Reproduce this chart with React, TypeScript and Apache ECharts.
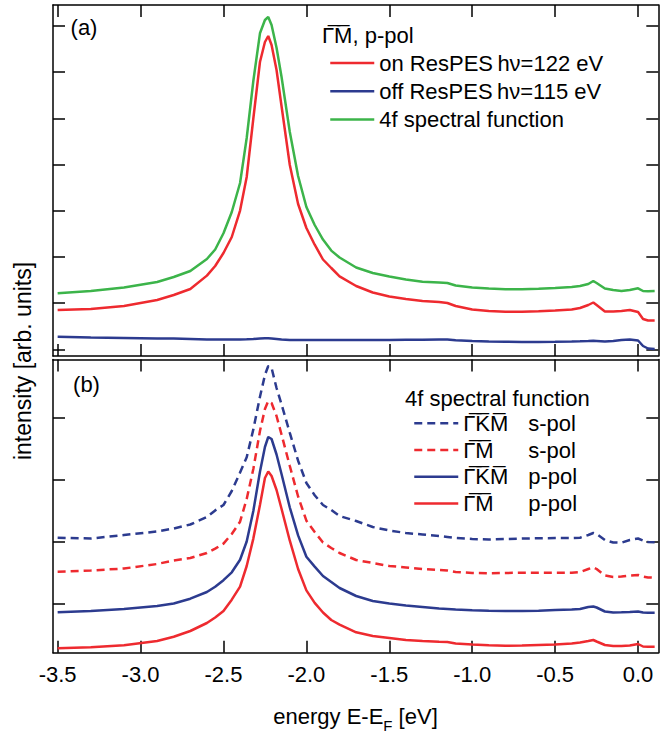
import React, { useEffect, useRef } from 'react';
import * as echarts from 'echarts';

// energy grid (eV)
const energy = [
  -3.5, -3.3, -3.1, -2.9, -2.8, -2.7, -2.6, -2.55, -2.5, -2.45,
  -2.4, -2.36, -2.32, -2.28, -2.25, -2.23, -2.21, -2.18, -2.15, -2.1,
  -2.05, -2.0, -1.95, -1.9, -1.85, -1.8, -1.7, -1.6, -1.5, -1.4,
  -1.3, -1.2, -1.15, -1.1, -1.0, -0.9, -0.8, -0.7, -0.6, -0.5,
  -0.4, -0.35, -0.3, -0.27, -0.25, -0.2, -0.15, -0.1, -0.05, 0.0,
  0.03, 0.06, 0.1,
];

// panel (a): GM, p-pol
const onResPES = [
  46, 47, 50, 56, 61, 67, 80.4, 90, 103, 119,
  145.4, 179, 237.5, 294, 314, 320, 311, 286, 250, 191,
  152, 128, 111.3, 96.5, 88, 79.7, 70, 63.5, 59.5, 57,
  55, 54, 53, 50, 46.5, 45, 44.3, 44.3, 44.7, 45.5,
  46.5, 48, 51, 53.5, 51, 44.5, 44.5, 45, 46, 44,
  37, 35.5, 35.5,
];
const offResPES = [
  19.3, 18.5, 18, 17.5, 17.5, 17, 16.5, 16.5, 16.5, 16.5,
  16.5, 16.7, 17, 17.5, 17.7, 17.7, 17.5, 17, 16.5, 16,
  16, 16, 16, 16, 16, 16, 16, 16, 16, 16.2,
  16.3, 16.5, 16.5, 15.7, 15, 14.5, 14.3, 14, 14, 14.2,
  14.5, 14.7, 15, 15.2, 15, 14.5, 15, 16, 16.5, 15.5,
  10, 7.5, 7,
];
const spectral4fA = [
  62.7, 65, 68.5, 74, 79, 85, 97, 106.5, 122.7, 144,
  173, 218, 275, 322.7, 336, 339, 331, 308.2, 279.3, 224,
  180, 149, 131, 116.4, 105.4, 98.5, 88.5, 83, 79.5, 76.5,
  74.3, 73.5, 73, 70.5, 68.5, 67.5, 66.7, 66.7, 67.2, 68,
  69, 70, 72, 75, 73, 67.5, 66, 65, 66, 67.7,
  65, 64.7, 65,
];

// panel (b): 4f spectral function
const gkmSpol = [
  115, 114.2, 117.7, 121.2, 124.2, 128.2, 135.7, 142.3, 147.7, 161.7,
  180.1, 195.4, 223.3, 255.9, 277.7, 286.7, 284.7, 264.7, 248.4, 219.9,
  192, 169.7, 157.5, 147.7, 142.7, 136.7, 131.7, 125.7, 122.2, 119.7,
  118.2, 116.7, 115.7, 114.7, 113.7, 113.2, 113.7, 114.2, 114.4, 114.7,
  114.7, 115, 117.7, 119.7, 118.7, 112.7, 110.2, 110, 112.7, 114.2,
  112.2, 110.7, 110.4,
];
const gmSpol = [
  81, 82.2, 84.2, 88.7, 92.2, 94.7, 99.7, 104.1, 109.1, 118.7,
  131, 153.7, 183.7, 221.7, 243.7, 251.7, 249.7, 236.7, 218.2, 186.7,
  156.2, 132, 120.7, 110.2, 104.7, 99.7, 92.7, 89.7, 86.7, 85.2,
  83.7, 82.7, 82.2, 80.7, 79.7, 79.4, 79.7, 80, 80, 80,
  80, 80.7, 83.7, 85.4, 83.7, 77.2, 75.7, 76.2, 77.2, 77.7,
  76.2, 75.2, 75,
];
const gkmPpol = [
  40.4, 41.7, 43.7, 46.7, 49.2, 54, 60.7, 65.9, 72.5, 80.4,
  92.9, 111.2, 141.7, 180.9, 205.7, 215.7, 213.7, 198.2, 178.7, 145.2,
  117.3, 96, 86.1, 76.7, 70.7, 64.7, 56.7, 51.7, 49.2, 47.2,
  45.7, 44.2, 43.7, 43.2, 42.4, 42, 41.7, 41.7, 42, 42.7,
  43.2, 43.7, 45.7, 46.2, 45.2, 41.2, 40.2, 40.4, 40.7, 41.2,
  40.2, 40, 40,
];
const gmPpol = [
  4.4, 5.4, 7.4, 11.7, 16, 21.7, 29.7, 35.2, 41.7, 53,
  66, 86.7, 114.1, 147.7, 174.7, 181.2, 176.7, 162.7, 144, 112,
  83.7, 62.3, 49.8, 40.2, 32.7, 28.1, 20.4, 16.7, 14.7, 12.7,
  11.7, 11, 10.7, 9.2, 8.2, 7.4, 7, 7.2, 7.7, 8.2,
  9.2, 10.2, 11.7, 12.7, 11.2, 7.7, 6.7, 6.7, 7.2, 8.7,
  6.2, 6, 6,
];

// ticks
const xTicks = [-3.5, -3.0, -2.5, -2.0, -1.5, -1.0, -0.5, 0.0];
const yTicksA = [6.7, 52.9, 99.1, 145.3, 191.5, 237.6, 283.8, 330];
const yTicksB = [48.7, 110.7, 172.7, 235];
const X_MIN = -3.528;
const X_MAX = 0.122;
const Y_MAX_A = 351;
const Y_MAX_B = 293.2;

const FONT = '"Liberation Sans", Arial, Helvetica, sans-serif';
const OL = '\u0305';
const G = 'Γ' + OL;
const M = 'M' + OL;
const K = 'K' + OL;

const RED = '#ee2a2f';
const BLUE = '#2c3b8f';
const GREEN = '#3cb44a';

const NAME_ON = 'on ResPES\u2009hν=122 eV';
const NAME_OFF = 'off ResPES\u2009hν=115 eV';
const NAME_4F = '4f spectral function';
const NAME_GKM_S = `${G}${K}${M} s-pol`;
const NAME_GM_S = `${G}${M} s-pol`;
const NAME_GKM_P = `${G}${K}${M} p-pol`;
const NAME_GM_P = `${G}${M} p-pol`;

export default function App() {
  const ref = useRef<HTMLDivElement>(null);

  useEffect(() => {
    if (!ref.current) return;
    const chart = echarts.init(ref.current, null, { renderer: 'svg' });
    const pair = (vals: number[]) => energy.map((e, i) => [e, vals[i]]);
    const axisLine = { show: true, onZero: false, lineStyle: { color: '#000', width: 1.5 } };
    const tick = (vals: number[]) => ({
      show: true, inside: true, length: 12, customValues: vals,
      lineStyle: { color: '#000', width: 1.5 },
    });
    const xAx = (gridIndex: number, position: string, labels: boolean) => ({
      type: 'value', gridIndex, position, min: X_MIN, max: X_MAX,
      axisLine, axisTick: tick(xTicks), splitLine: { show: false },
      axisLabel: labels
        ? {
            show: true, customValues: xTicks,
            formatter: (v: number) => v.toFixed(1),
            fontSize: 22, color: '#000', fontFamily: FONT, margin: 11,
          }
        : { show: false },
    });
    const yAx = (gridIndex: number, position: string, max: number, ticks: number[]) => ({
      type: 'value', gridIndex, position, min: 0, max,
      axisLine, axisTick: tick(ticks), splitLine: { show: false },
      axisLabel: { show: false },
    });
    const line = (name: string, data: number[], color: string, x: number, y: number, dashed = false) => ({
      name, type: 'line', xAxisIndex: x, yAxisIndex: y, data: pair(data),
      symbol: 'none', showSymbol: false, smooth: false,
      lineStyle: { color, width: 2.5, type: dashed ? [8, 5] : 'solid' },
      itemStyle: { color },
    });
    const legendText = {
      fontSize: 22, fontFamily: FONT, color: '#000', lineHeight: 22,
    };
    const txt = (text: string, x: number, y: number, size = 22, align = 'left') => ({
      type: 'text', x, y,
      style: { text, fontSize: size, fontFamily: FONT, fill: '#000', align, verticalAlign: 'middle' },
    });

    chart.setOption({
      animation: false,
      backgroundColor: '#fff',
      grid: [
        { left: 53, right: 12.7, top: 5, height: Y_MAX_A },
        { left: 53, right: 12.7, top: 359.5, height: Y_MAX_B },
      ],
      xAxis: [
        xAx(0, 'bottom', false),
        xAx(0, 'top', false),
        xAx(1, 'bottom', true),
        xAx(1, 'top', false),
      ],
      yAxis: [
        yAx(0, 'left', Y_MAX_A, yTicksA),
        yAx(0, 'right', Y_MAX_A, yTicksA),
        yAx(1, 'left', Y_MAX_B, yTicksB),
        yAx(1, 'right', Y_MAX_B, yTicksB),
      ],
      legend: [
        {
          data: [NAME_ON, NAME_OFF, NAME_4F],
          orient: 'vertical', left: 324, top: 47,
          itemWidth: 44, itemHeight: 14, itemGap: 6.2,
          selectedMode: false, textStyle: legendText,
          lineStyle: { width: 2.5 },
          itemStyle: { opacity: 0 },
        },
        {
          data: [NAME_GKM_S, NAME_GM_S, NAME_GKM_P, NAME_GM_P],
          orient: 'vertical', left: 408, top: 407.3,
          itemWidth: 44, itemHeight: 14, itemGap: 4.7,
          selectedMode: false, textStyle: {
            ...legendText,
            rich: {
              a: { fontSize: 22, fontFamily: FONT, color: '#000', width: 65, lineHeight: 22 },
              b: { fontSize: 22, fontFamily: FONT, color: '#000', lineHeight: 22 },
            },
          },
          lineStyle: { width: 2.5 },
          itemStyle: { opacity: 0 },
          formatter: (name: string) => {
            const [a, b] = name.split(' ');
            return `{a|${a}}{b|${b}}`;
          },
        },
      ],
      graphic: [
        txt('(a)', 84, 27.5, 22, 'center'),
        txt('(b)', 86.5, 384, 22, 'center'),
        txt(`${G}${M}, p-pol`, 322, 35),
        txt('4f spectral function', 405, 398),
        {
          type: 'text', x: 23, y: 361, rotation: Math.PI / 2,
          style: { text: 'intensity [arb. units]', fontSize: 23, fontFamily: FONT, fill: '#000', align: 'center', verticalAlign: 'middle' },
        },
        // x-axis title with subscript F
        txt('energy E-E', 273.3, 716),
        txt('F', 383.3, 725.5, 15),
        txt(' [eV]', 392.5, 716),
      ],
      series: [
        line(NAME_ON, onResPES, RED, 0, 0),
        line(NAME_OFF, offResPES, BLUE, 0, 0),
        line(NAME_4F, spectral4fA, GREEN, 0, 0),
        line(NAME_GKM_S, gkmSpol, BLUE, 2, 2, true),
        line(NAME_GM_S, gmSpol, RED, 2, 2, true),
        line(NAME_GKM_P, gkmPpol, BLUE, 2, 2),
        line(NAME_GM_P, gmPpol, RED, 2, 2),
      ],
    });
    return () => chart.dispose();
  }, []);

  return <div ref={ref} style={{ position: 'fixed', left: 0, top: 0, width: 671, height: 733 }} />;
}
